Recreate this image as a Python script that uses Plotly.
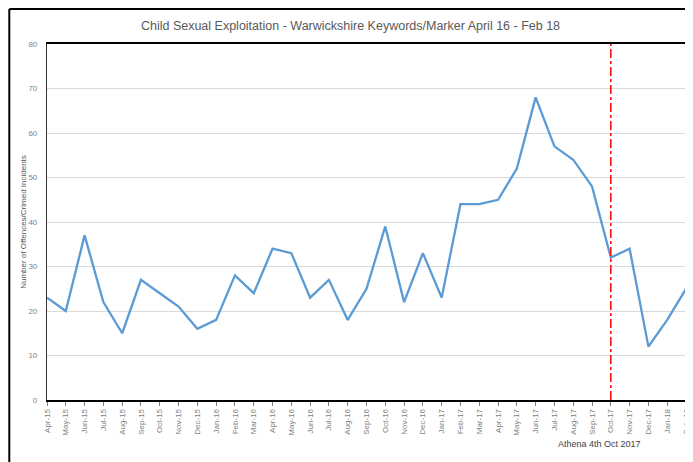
import plotly.graph_objects as go

months = ["Apr-15", "May-15", "Jun-15", "Jul-15", "Aug-15", "Sep-15", "Oct-15", "Nov-15",
          "Dec-15", "Jan-16", "Feb-16", "Mar-16", "Apr-16", "May-16", "Jun-16", "Jul-16",
          "Aug-16", "Sep-16", "Oct-16", "Nov-16", "Dec-16", "Jan-17", "Feb-17", "Mar-17",
          "Apr-17", "May-17", "Jun-17", "Jul-17", "Aug-17", "Sep-17", "Oct-17", "Nov-17",
          "Dec-17", "Jan-18", "Feb-18"]
offences = [23, 20, 37, 22, 15, 27, 24, 21, 16, 18, 28, 24, 34, 33, 23, 27, 18, 25, 39,
            22, 33, 23, 44, 44, 45, 52, 68, 57, 54, 48, 32, 34, 12, 18, 25]
marker_month = "Oct-17"
marker_label = "Athena 4th Oct 2017"

font = "Liberation Sans Narrow, Arial Narrow, Liberation Sans, sans-serif"

fig = go.Figure()
fig.add_trace(go.Scatter(x=months, y=offences, mode="lines",
                         line=dict(color="#5b9bd5", width=2.3), showlegend=False))

fig.add_shape(type="line", xref="x", yref="paper", x0=marker_month, x1=marker_month,
              y0=0, y1=1, line=dict(color="red", width=1.5, dash="dashdot"))

# outer chart border (top and left edges only are visible)
fig.add_shape(type="line", xref="paper", yref="paper", x0=-0.059, x1=1.03,
              y0=1.098, y1=1.098, line=dict(color="black", width=2))
fig.add_shape(type="line", xref="paper", yref="paper", x0=-0.059, x1=-0.059,
              y0=-0.2, y1=1.098, line=dict(color="black", width=2))

fig.add_annotation(text=marker_label, xref="x", yref="paper", x=marker_month, y=-0.124,
                   xanchor="center", yanchor="middle", xshift=-11, showarrow=False,
                   font=dict(size=9, color="#404040", family=font))

# page body adds an 8px offset, so the figure is 8px smaller than the window
fig.update_layout(
    width=685, height=454,
    margin=dict(l=39, r=7, t=36, b=62, autoexpand=False),
    paper_bgcolor="white", plot_bgcolor="white",
    title=dict(text="Child Sexual Exploitation - Warwickshire Keywords/Marker April 16 - Feb 18",
               x=0.5, xanchor="center", y=0.962, yanchor="middle",
               font=dict(size=12.5, color="#595959", family=font)),
    font=dict(family=font, color="#7f7f7f"),
)
fig.update_xaxes(type="category", range=[0, len(months) - 1], tickangle=-90, automargin=False,
                 tickfont=dict(size=8, color="#7f7f7f"), ticks="outside", ticklen=4,
                 tickcolor="#7f7f7f", showgrid=False, showline=True, linecolor="black",
                 linewidth=1.5, mirror=True)
fig.update_yaxes(range=[0, 80], dtick=10, tickfont=dict(size=8, color="#7f7f7f"),
                 automargin=False, ticklabelstandoff=7,
                 gridcolor="#d9d9d9", gridwidth=1, showline=True, linecolor="#333333",
                 linewidth=1.2, mirror=True, zeroline=False, ticks="",
                 title=dict(text="Number of Offences/Crimed Incidents",
                            font=dict(size=8, color="#595959"), standoff=0))

fig.write_html("out.html")
